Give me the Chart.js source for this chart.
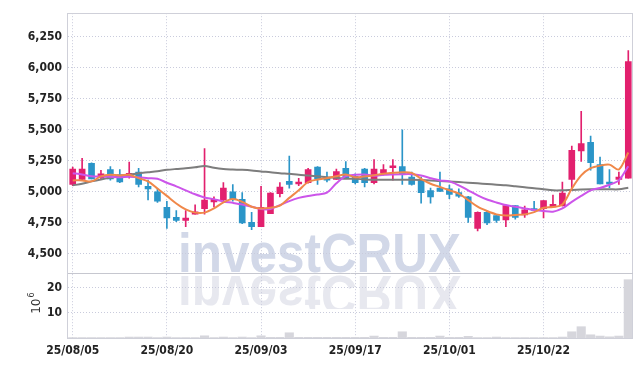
<!DOCTYPE html>
<html>
<head>
<meta charset="utf-8">
<script src="https://cdn.jsdelivr.net/npm/chart.js@4/dist/chart.umd.min.js"></script>
<style>
  html, body { margin: 0; padding: 0; background: #fff; }
  canvas { display: block; }
</style>
</head>
<body>
<canvas id="stockChart" width="642" height="366"></canvas>
<script>
// trading days shown on the chart
const dates = [
  '25/08/05','25/08/06','25/08/07','25/08/08','25/08/11','25/08/12','25/08/13','25/08/14','25/08/18','25/08/19',
  '25/08/20','25/08/21','25/08/22','25/08/25','25/08/26','25/08/27','25/08/28','25/08/29','25/09/01','25/09/02',
  '25/09/03','25/09/04','25/09/05','25/09/08','25/09/09','25/09/10','25/09/11','25/09/12','25/09/15','25/09/16',
  '25/09/17','25/09/18','25/09/19','25/09/22','25/09/23','25/09/24','25/09/25','25/09/26','25/09/29','25/09/30',
  '25/10/01','25/10/02','25/10/10','25/10/13','25/10/14','25/10/15','25/10/16','25/10/17','25/10/20','25/10/21',
  '25/10/22','25/10/23','25/10/24','25/10/27','25/10/28','25/10/29','25/10/30','25/10/31','25/11/03','25/11/04'
];
const shownDates = ['25/08/05', '25/08/20', '25/09/03', '25/09/17', '25/10/01', '25/10/22'];

const opens = [
  5060, 5100, 5230, 5115, 5180, 5140, 5130, 5160, 5045, 5000,
  4875, 4795, 4770, 4820, 4865, 4920, 4935, 5000, 4940, 4755,
  4720, 4825, 4985, 5085, 5065, 5075, 5200, 5115, 5100, 5190,
  5125, 5185, 5075, 5155, 5195, 5205, 5120, 5100, 5010, 5030,
  5025, 4995, 4960, 4705, 4835, 4810, 4775, 4890, 4815, 4865,
  4865, 4880, 4890, 5100, 5330, 5400, 5220, 5080, 5100, 5110
];
const highs = [
  5200, 5270, 5235, 5175, 5205, 5180, 5240, 5190, 5095, 5025,
  4925, 4850, 4850, 4895, 5350, 4960, 5075, 5060, 4995, 4835,
  5045, 4995, 5075, 5290, 5110, 5190, 5205, 5160, 5185, 5245,
  5145, 5190, 5260, 5220, 5260, 5500, 5160, 5120, 5030, 5160,
  5055, 5025, 4965, 4840, 4845, 4810, 4890, 4890, 4885, 4925,
  4930, 4975, 5080, 5370, 5650, 5450, 5280, 5180, 5160, 6140
];
const lows = [
  5050, 5095, 5105, 5105, 5095, 5075, 5110, 5040, 4935, 4915,
  4705, 4760, 4720, 4820, 4820, 4880, 4925, 4925, 4745, 4695,
  4720, 4825, 4960, 5030, 5050, 5070, 5060, 5080, 5100, 5110,
  5065, 5040, 5065, 5135, 5095, 5060, 5055, 4910, 4910, 5005,
  4945, 4955, 4755, 4685, 4735, 4755, 4720, 4780, 4795, 4850,
  4790, 4880, 4885, 5025, 5245, 5175, 5065, 5035, 5060, 5110
];
const closes = [
  5185, 5185, 5105, 5145, 5105, 5080, 5150, 5060, 5025, 4925,
  4790, 4770, 4790, 4840, 4935, 4940, 5030, 4945, 4750, 4720,
  4875, 4990, 5040, 5060, 5080, 5180, 5105, 5095, 5165, 5115,
  5075, 5075, 5185, 5180, 5210, 5140, 5060, 4995, 4960, 5005,
  4980, 4965, 4795, 4835, 4750, 4770, 4890, 4795, 4855, 4850,
  4930, 4900, 4990, 5335, 5390, 5235, 5065, 5065, 5120, 6050
];

// moving averages as plotted (5, 20, 60 days)
const ma5 = [
  5093, 5093, 5085, 5125, 5138, 5133, 5138, 5111, 5085, 5027,
  4968, 4907, 4859, 4833, 4833, 4867, 4915, 4942, 4920, 4881,
  4867, 4873, 4890, 4952, 5013, 5080, 5100, 5111, 5127, 5141,
  5119, 5125, 5135, 5146, 5154, 5159, 5154, 5106, 5066, 5040,
  5013, 4987, 4934, 4881, 4846, 4819, 4809, 4814, 4819, 4837,
  4873, 4878, 4899, 5027, 5133, 5191, 5212, 5220, 5181, 5318
];
const ma20 = [
  5151, 5141, 5127, 5125, 5122, 5119, 5122, 5119, 5111, 5106,
  5074, 5045, 5013, 4981, 4955, 4942, 4923, 4912, 4899, 4881,
  4862, 4862, 4894, 4926, 4952, 4968, 4979, 4995, 5070, 5128,
  5138, 5141, 5130, 5138, 5141, 5143, 5143, 5133, 5111, 5093,
  5085, 5053, 5013, 4973, 4939, 4915, 4894, 4881, 4867, 4854,
  4846, 4841, 4867, 4920, 4968, 5013, 5032, 5058, 5093, 5207
];
const ma60 = [
  5053, 5066, 5085, 5101, 5114, 5125, 5138, 5151, 5159, 5167,
  5178, 5185, 5191, 5199, 5210, 5195, 5185, 5181, 5178, 5173,
  5165, 5159, 5151, 5146, 5138, 5133, 5127, 5119, 5114, 5106,
  5106, 5101, 5098, 5098, 5098, 5098, 5098, 5096, 5093, 5088,
  5085, 5080, 5074, 5069, 5064, 5058, 5053, 5045, 5037, 5030,
  5021, 5013, 5013, 5016, 5019, 5021, 5021, 5021, 5021, 5034
];

// volume in millions of shares
const volumes = [
  0.3, 0.3, 0.3, 0.3, 0.3, 0.3, 0.5, 0.5, 0.5, 0.3,
  0.5, 0.3, 0.3, 0.3, 1.0, 0.3, 0.5, 0.3, 0.5, 0.3,
  1.0, 0.4, 0.4, 2.2, 0.4, 0.4, 0.4, 0.4, 0.4, 0.4,
  0.4, 0.4, 0.9, 0.4, 0.4, 2.6, 0.4, 0.4, 0.4, 0.9,
  0.4, 0.4, 0.8, 0.3, 0.3, 0.5, 0.3, 0.3, 0.3, 0.3,
  0.3, 0.3, 0.5, 2.6, 4.6, 1.4, 0.9, 0.6, 0.9, 23.2
];

const priceTicks = [4500, 4750, 5000, 5250, 5500, 5750, 6000, 6250];
const volumeTicks = [10, 20];

const UP = '#e2206e';
const DOWN = '#2b95c8';
const GRID = '#c9cbdc';
const FRAME = '#cfd0d9';
const LABEL_FONT = { family: "'DejaVu Sans Condensed', 'Liberation Sans Narrow', sans-serif", size: 12, weight: 'bold' };

const candleColors = closes.map((c, i) => (c >= opens[i] ? UP : DOWN));
const bodies = opens.map((o, i) => [o, closes[i]]);
const wicks = lows.map((l, i) => [l, highs[i]]);

// watermark behind everything
const watermark = {
  id: 'watermark',
  beforeDraw(chart) {
    const ctx = chart.ctx;
    const base = chart.scales.y.bottom;
    ctx.save();
    ctx.font = "bold 56px 'Liberation Sans', Arial, sans-serif";
    ctx.textBaseline = 'alphabetic';
    ctx.fillStyle = '#d2d8e8';
    ctx.fillText('investCRUX', 178, base - 1, 283);
    // mirrored reflection under the divider, cut before the i-dot
    ctx.beginPath();
    ctx.rect(0, base, chart.width, 36);
    ctx.clip();
    ctx.translate(0, 2 * base + 2);
    ctx.scale(1, -1);
    ctx.fillStyle = '#e7e8ef';
    ctx.fillText('investCRUX', 178, base - 1, 283);
    ctx.restore();
  }
};

// plot frame, pane divider and the 10^6 unit label
const frame = {
  id: 'frame',
  afterDraw(chart) {
    const { ctx, chartArea } = chart;
    const split = chart.scales.y.bottom;
    ctx.save();
    ctx.strokeStyle = FRAME;
    ctx.lineWidth = 1;
    ctx.strokeRect(Math.round(chartArea.left) - 0.5, Math.round(chartArea.top) + 0.5,
      Math.round(chartArea.right - chartArea.left), Math.round(chartArea.bottom - chartArea.top));
    ctx.strokeStyle = '#c6c7cf';
    ctx.beginPath();
    ctx.moveTo(chartArea.left, Math.round(split) + 0.5);
    ctx.lineTo(chartArea.right, Math.round(split) + 0.5);
    ctx.stroke();

    const vol = chart.scales.vol;
    ctx.translate(40, (vol.top + vol.bottom) / 2 - 4);
    ctx.rotate(-Math.PI / 2);
    ctx.fillStyle = '#333';
    ctx.textBaseline = 'alphabetic';
    ctx.textAlign = 'right';
    ctx.font = "12px 'DejaVu Sans', sans-serif";
    ctx.fillText('10', 3, 0);
    ctx.textAlign = 'left';
    ctx.font = "8px 'DejaVu Sans', sans-serif";
    ctx.fillText('6', 4, -6);
    ctx.restore();
  }
};

const ctx = document.getElementById('stockChart').getContext('2d');
new Chart(ctx, {
  type: 'bar',
  data: {
    labels: dates,
    datasets: [
      { type: 'line', data: ma5, yAxisID: 'y', borderColor: '#f0884a', borderWidth: 2, pointRadius: 0, tension: 0.3, order: 0 },
      { type: 'line', data: ma20, yAxisID: 'y', borderColor: '#cc55ea', borderWidth: 2, pointRadius: 0, tension: 0.3, order: 0 },
      { type: 'line', data: ma60, yAxisID: 'y', borderColor: '#7d7d7d', borderWidth: 2, pointRadius: 0, tension: 0.3, order: 0 },
      { data: bodies, yAxisID: 'y', backgroundColor: candleColors, barThickness: 6, grouped: false, order: 1 },
      { data: wicks, yAxisID: 'y', backgroundColor: candleColors, barThickness: 1, grouped: false, order: 2 },
      { data: volumes, yAxisID: 'vol', backgroundColor: '#d6d6dc', barPercentage: 1, categoryPercentage: 0.97, grouped: false, order: 3 }
    ]
  },
  options: {
    responsive: false,
    animation: false,
    devicePixelRatio: 1,
    layout: { padding: { top: 9, right: 9, left: 0, bottom: 0 } },
    plugins: { legend: { display: false }, tooltip: { enabled: false } },
    scales: {
      x: {
        offset: true,
        grid: {
          offset: false,
          drawTicks: false,
          color: c => (shownDates.includes(dates[c.index]) ? GRID : 'rgba(0,0,0,0)')
        },
        border: { display: false, dash: [1, 2] },
        ticks: {
          autoSkip: false,
          maxRotation: 0,
          padding: 6,
          color: '#222',
          font: LABEL_FONT,
          callback: (v, i) => (shownDates.includes(dates[i]) ? dates[i] : '')
        },
        afterFit: s => { s.height = 28; }
      },
      vol: {
        stack: 'panes',
        stackWeight: 1,
        position: 'left',
        min: 0,
        max: 25.7,
        afterBuildTicks: s => { s.ticks = volumeTicks.map(v => ({ value: v })); },
        grid: { color: GRID, drawTicks: false },
        border: { display: false, dash: [1, 2] },
        ticks: { autoSkip: false, padding: 6, color: '#222', font: LABEL_FONT },
        afterFit: s => { s.width = 68; }
      },
      y: {
        stack: 'panes',
        stackWeight: 4,
        position: 'left',
        min: 4346,
        max: 6441,
        afterBuildTicks: s => { s.ticks = priceTicks.map(v => ({ value: v })); },
        grid: { color: GRID, drawTicks: false },
        border: { display: false, dash: [1, 2] },
        ticks: { autoSkip: false, padding: 6, color: '#222', font: LABEL_FONT, callback: v => v.toLocaleString('en-US') },
        afterFit: s => { s.width = 68; }
      }
    }
  },
  plugins: [watermark, frame]
});
</script>
</body>
</html>
